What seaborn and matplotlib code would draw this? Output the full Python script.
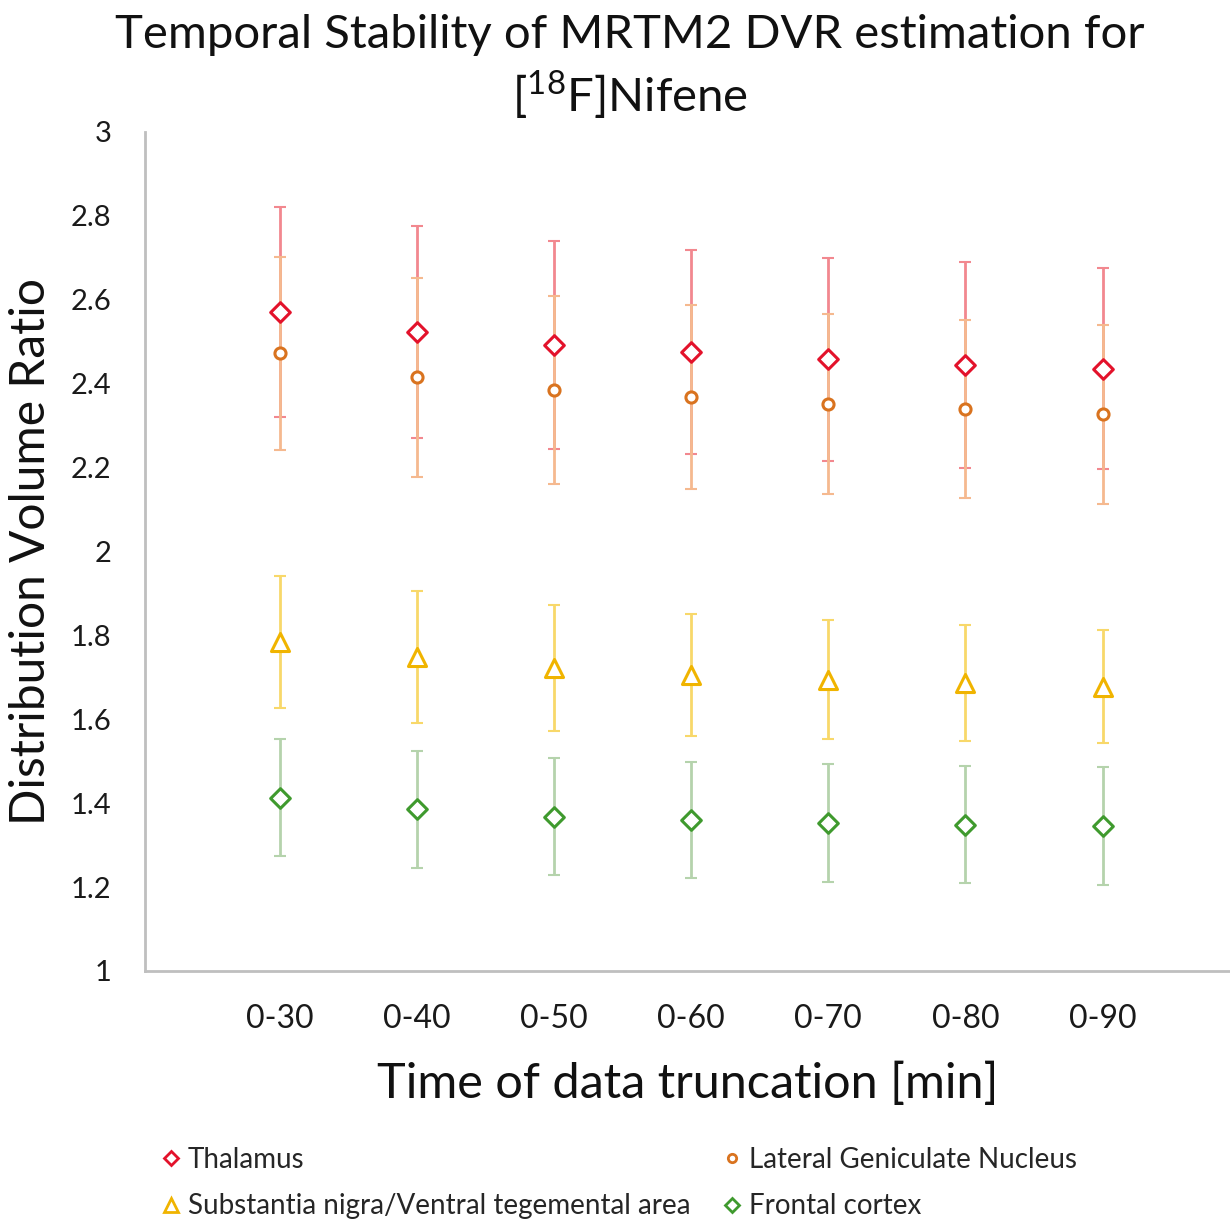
import matplotlib
matplotlib.use("Agg")
import matplotlib.pyplot as plt
import numpy as np
import pandas as pd
import seaborn as sns
from matplotlib.ticker import FuncFormatter

# ---------------------------------------------------------------------------
# Data
# ---------------------------------------------------------------------------
TIMES = ["0-30", "0-40", "0-50", "0-60", "0-70", "0-80", "0-90"]
REGIONS = [
    "Thalamus",
    "Lateral Geniculate Nucleus",
    "Substantia nigra/Ventral tegemental area",
    "Frontal cortex",
]

thalamus_mean = [2.570, 2.523, 2.492, 2.475, 2.458, 2.445, 2.436]
thalamus_err = [0.250, 0.253, 0.248, 0.243, 0.242, 0.245, 0.240]

lgn_mean = [2.473, 2.415, 2.385, 2.368, 2.352, 2.339, 2.327]
lgn_err = [0.230, 0.237, 0.225, 0.220, 0.215, 0.212, 0.213]

snvta_mean = [1.785, 1.748, 1.723, 1.706, 1.694, 1.686, 1.678]
snvta_err = [0.157, 0.158, 0.150, 0.145, 0.142, 0.138, 0.135]

frontal_mean = [1.413, 1.385, 1.368, 1.359, 1.352, 1.349, 1.346]
frontal_err = [0.140, 0.140, 0.140, 0.138, 0.141, 0.140, 0.140]

Y_TICKS = [1, 1.2, 1.4, 1.6, 1.8, 2, 2.2, 2.4, 2.6, 2.8, 3]

# styling per region: (marker, edge color, errorbar color, marker size)
STYLES = {
    "Thalamus": ("D", "#E3122B", "#F2888F", 10),
    "Lateral Geniculate Nucleus": ("o", "#D9731F", "#F5B98F", 8),
    "Substantia nigra/Ventral tegemental area": ("^", "#F0B400", "#F8D86A", 13),
    "Frontal cortex": ("D", "#3F9A2E", "#B5D3AC", 10),
}

# ---------------------------------------------------------------------------
# Long table for seaborn
# ---------------------------------------------------------------------------
means = [thalamus_mean, lgn_mean, snvta_mean, frontal_mean]
errs = [thalamus_err, lgn_err, snvta_err, frontal_err]
rows = []
for region, m, e in zip(REGIONS, means, errs):
    for i, t in enumerate(TIMES):
        rows.append({"region": region, "time": t, "pos": i, "dvr": m[i], "err": e[i]})
df = pd.DataFrame(rows)

sns.set_theme(style="white")
FONT = ["Lato", "DejaVu Sans"]
plt.rcParams["font.family"] = FONT
plt.rcParams["mathtext.fontset"] = "custom"
plt.rcParams["mathtext.rm"] = "Lato"

fig = plt.figure(figsize=(12.3, 12.21), dpi=100)
ax = fig.add_axes([0.1179, 0.2048, 0.8821, 0.6871])

handles = []
for region in REGIONS:
    marker, edge, ecol, ms = STYLES[region]
    sub = df[df["region"] == region]
    ax.errorbar(
        sub["pos"], sub["dvr"], yerr=sub["err"],
        fmt="none", ecolor=ecol, elinewidth=2, capsize=4, capthick=1.5, zorder=2,
    )
    sns.scatterplot(
        data=sub, x="pos", y="dvr", ax=ax, marker=marker,
        s=ms ** 2, facecolor="white", edgecolor=edge, linewidth=2.2, zorder=3,
        legend=False,
    )
    handles.append(
        plt.Line2D([], [], linestyle="none", marker=marker, markersize=ms * 0.75,
                   markerfacecolor="white", markeredgecolor=edge, markeredgewidth=2,
                   label=region)
    )

ax.set_xlim(-0.985, 6.93)
ax.set_ylim(1, 3)
ax.set_xticks(range(len(TIMES)))
ax.set_xticklabels(TIMES)
ax.set_yticks(Y_TICKS)
ax.yaxis.set_major_formatter(FuncFormatter(lambda v, p: f"{v:g}"))
ax.tick_params(axis="x", length=0, pad=24, labelsize=23, labelcolor="#1a1a1a")
ax.tick_params(axis="y", length=0, pad=24, labelsize=21, labelcolor="#1a1a1a")

for side in ["top", "right"]:
    ax.spines[side].set_visible(False)
for side in ["left", "bottom"]:
    ax.spines[side].set_color("#BFBFBF")
    ax.spines[side].set_linewidth(2)

ax.set_xlabel("Time of data truncation [min]", fontsize=35, labelpad=20, color="#111111")
ax.set_ylabel("Distribution Volume Ratio", fontsize=34.5, labelpad=13, color="#111111")

fig.text(0.512, 0.971, "Temporal Stability of MRTM2 DVR estimation for",
         ha="center", va="center", fontsize=34, color="#111111")
fig.text(0.512, 0.922, r"[$^{\mathregular{18}}$F]Nifene",
         ha="center", va="center", fontsize=34, color="#111111")

# legend: row-wise ordering with two columns
order = [0, 2, 1, 3]
fig.legend(
    [handles[i] for i in order], [REGIONS[i] for i in order],
    ncol=2, loc="center left", bbox_to_anchor=(0.128, 0.031), frameon=False,
    borderpad=0, borderaxespad=0,
    fontsize=20, handletextpad=0.1, handlelength=1.0, columnspacing=1.0,
    labelspacing=0.74,
)

fig.savefig("out.png", dpi=100)
